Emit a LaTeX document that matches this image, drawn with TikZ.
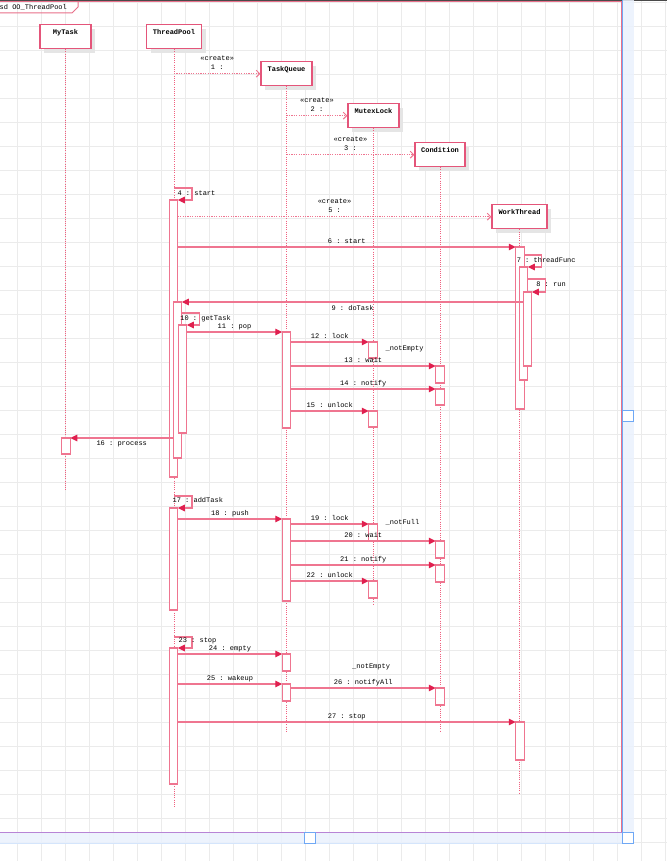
\documentclass[tikz,border=0pt]{standalone}
\usepackage{fontspec}
\setmonofont{Liberation Mono}
\usetikzlibrary{arrows.meta,shadows}

\definecolor{gridgray}{HTML}{EBEBEB}
\definecolor{framepink}{HTML}{E8708A}
\definecolor{boxred}{HTML}{E4557A}
\definecolor{msgpink}{HTML}{EF7590}
\definecolor{tipred}{HTML}{E0204F}
\definecolor{lifepink}{HTML}{F0607F}
\definecolor{selblue}{HTML}{6FA8F5}
\definecolor{selband}{HTML}{EAF2FD}
\definecolor{selpurple}{HTML}{B884D6}
\definecolor{darkbar}{HTML}{4A4A4A}

\tikzset{
  lbl/.style={font=\ttfamily\fontsize{7}{9.5}\selectfont, inner sep=0pt, text=black},
  objbox/.style={draw=boxred, line width=1.3pt, fill=white, inner sep=0pt, anchor=north,
    text height=10pt, text depth=14pt, font=\ttfamily\bfseries\fontsize{7}{9}\selectfont,
    drop shadow={shadow xshift=4pt, shadow yshift=-4pt, fill=black!10, opacity=1}},
  actbar/.style={draw=msgpink, line width=1.1pt, fill=white, inner sep=0pt, outer sep=0pt,
    minimum width=8.5pt, anchor=north},
  lifeline/.style={lifepink, line width=0.8pt, dash pattern=on 1pt off 1.2pt},
  callmsg/.style={msgpink, line width=1.1pt, -{Triangle[length=7pt, width=6.5pt, color=tipred]}},
  newmsg/.style={msgpink, line width=0.9pt, dash pattern=on 1.2pt off 1.2pt,
    -{Straight Barb[length=3.5pt, width=7pt]}},
}

\begin{document}
\begin{tikzpicture}[x=1pt, y=-1pt]
  \useasboundingbox[fill=white] (0,0) rectangle (667,861);

  % background grid
  \foreach \x in {17,41,...,665} {
    \draw[gridgray, line width=0.8pt] (\x,0) -- (\x,861);
  }
  \foreach \y in {2,26,...,842} {
    \draw[gridgray, line width=0.8pt] (0,\y) -- (667,\y);
  }

  % diagram frame and its tab
  \draw[darkbar, line width=1pt] (0,0.5) -- (667,0.5);
  \draw[framepink, line width=1pt] (-2,1.8) rectangle (621,832);
  \draw[framepink, line width=1pt] (-2,13) -- (72,13) -- (78,7) -- (78,1.8);
  \node[lbl, anchor=base west] (frametitle) at (-0.5,9.5) {sd OO\_ThreadPool};

  % lifeline heads
  \node[objbox, minimum width=51pt] (mytask) at (65.5,24) {MyTask};
  \node[objbox, minimum width=55pt] (pool) at (174,24) {ThreadPool};
  \node[objbox, minimum width=51pt] (queue) at (286.5,61) {TaskQueue};
  \node[objbox, minimum width=51pt] (mutex) at (373.5,103) {MutexLock};
  \node[objbox, minimum width=50pt] (cond) at (440,142) {Condition};
  \node[objbox, minimum width=55pt] (worker) at (519.5,204) {WorkThread};

  % dotted lifelines
  \foreach \n/\e in {mytask/490, pool/808, queue/732, mutex/605, cond/731, worker/793} {
    \draw[lifeline] (\n.south) -- (\n.south |- 0,\e);
  }

  % activation bars
  \foreach \n/\x/\a/\b in {tp1/173.5/200/477, tp2/177.5/302/458, tp3/182.5/325/433,
      tp4/173.5/508/610, tp5/173.5/648/784, mt1/66/438/454,
      tq1/286.5/332/428, tq2/286.5/519/601, tq3/286.5/654/671, tq4/286.5/684/701,
      mx1/373/342/358, mx2/373/411/427, mx3/373/524/541, mx4/373/581/598,
      cd1/440/366/383, cd2/440/389/405, cd3/440/541/558, cd4/440/565/582, cd5/440/688/705,
      wt1/520/247/409, wt2/523.5/267/380, wt3/527.5/292/366, wt4/520/722/760} {
    \node[actbar, minimum height={(\b-\a)*1pt}] (\n) at (\x,\a) {};
  }

  % creation messages
  \draw[newmsg] (pool.south |- queue.west) -- (queue.west)
    node[lbl, midway, anchor=south, align=center, yshift=3.5pt] {«create»\\1 :~};
  \draw[newmsg] (queue.south |- mutex.west) -- (mutex.west)
    node[lbl, midway, anchor=south, align=center, yshift=3.5pt] {«create»\\2 :~};
  \draw[newmsg] (queue.south |- cond.west) -- (cond.west)
    node[lbl, midway, anchor=south, align=center, yshift=3.5pt] {«create»\\3 :~};
  \draw[newmsg] (tp1.east |- worker.west) -- (worker.west)
    node[lbl, midway, anchor=south, align=center, yshift=3.5pt] {«create»\\5 :~};

  % self calls
  \draw[callmsg] (pool.south |- 0,188) node[lbl, anchor=base west, xshift=3pt, yshift=-7.5pt] {4 : start}
    -- ++(18,0) |- (tp1.north east);
  \draw[callmsg] (wt1.east |- 0,255) node[lbl, anchor=base west, xshift=-8pt, yshift=-7.5pt] {7 : threadFunc}
    -- ++(17,0) |- (wt2.north east);
  \draw[callmsg] (wt2.east |- 0,279) node[lbl, anchor=base west, xshift=8pt, yshift=-7.5pt] {8 : run}
    -- ++(18,0) |- (wt3.north east);
  \draw[callmsg] (tp2.east |- 0,313) node[lbl, anchor=base west, xshift=-2pt, yshift=-7.5pt] {10 : getTask}
    -- ++(18,0) |- (tp3.north east);
  \draw[callmsg] (pool.south |- 0,496) node[lbl, anchor=base west, xshift=-2pt, yshift=-6.5pt] {17 : addTask}
    -- ++(18,0) |- (tp4.north east);
  \draw[callmsg] (pool.south |- 0,637) node[lbl, anchor=base west, xshift=4pt, yshift=-5.5pt] {23 : stop}
    -- ++(18,0) |- (tp5.north east);

  % synchronous calls, label above the line
  \foreach \s/\t/\txt in {tp1/wt1/6 : start, tp3/tq1/11 : pop, tq1/mx1/12 : lock,
      tq1/cd1/13 : wait, tq1/cd2/14 : notify, tq1/mx2/15 : unlock,
      tp4/tq2/18 : push, tq2/mx3/19 : lock, tq2/cd3/20 : wait, tq2/cd4/21 : notify,
      tq2/mx4/22 : unlock, tp5/tq3/24 : empty, tp5/tq4/25 : wakeup,
      tq4/cd5/26 : notifyAll, tp5/wt4/27 : stop} {
    \draw[callmsg] (\s.east |- \t.north) -- (\t.north west)
      node[lbl, midway, anchor=base, yshift=3.5pt] {\txt};
  }

  % calls back to the left, label below the line
  \draw[callmsg] (wt3.west |- tp2.north) -- (tp2.north east)
    node[lbl, midway, anchor=base, yshift=-8.5pt] {9 : doTask};
  \draw[callmsg] (tp2.west |- mt1.north) -- (mt1.north east)
    node[lbl, midway, anchor=base, yshift=-7.5pt] {16 : process};

  % guard conditions
  \node[lbl, anchor=base west] (guardA) at (385.5,350.5) {\_notEmpty};
  \node[lbl, anchor=base west] (guardB) at (385.5,524.5) {\_notFull};
  \node[lbl, anchor=base west] (guardC) at (352,668.5) {\_notEmpty};

  % selection overlay
  \fill[selband, opacity=0.85] (622,0) rectangle (633.5,843);
  \fill[selband, opacity=0.85] (0,832.5) rectangle (622,843);
  \draw[selblue!30, line width=0.6pt] (0,843) -- (633.5,843);
  \draw[selblue, line width=1.2pt] (622.5,0) -- (622.5,832.5);
  \draw[selpurple, line width=1.2pt] (0,832.5) -- (622.5,832.5);
  \foreach \x/\y in {628/416, 310/838, 628/838} {
    \draw[selblue, line width=1.3pt, fill=white] (\x-5.5,\y-5.5) rectangle (\x+5.5,\y+5.5);
  }
\end{tikzpicture}
\end{document}
